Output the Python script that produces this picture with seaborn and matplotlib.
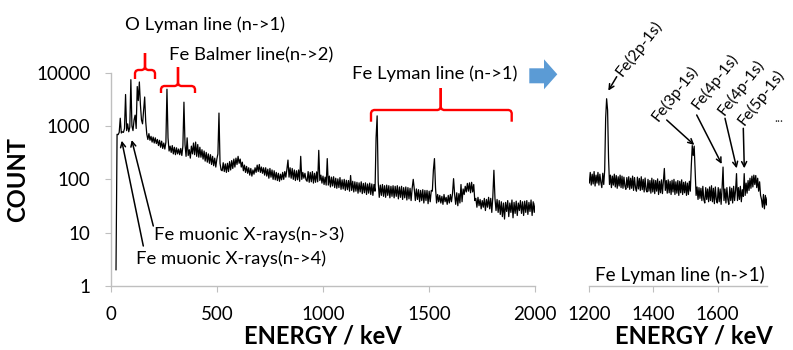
import numpy as np
import pandas as pd
import matplotlib
matplotlib.use("Agg")
import matplotlib.pyplot as plt
import seaborn as sns
from matplotlib.patches import Polygon
from matplotlib.lines import Line2D
from matplotlib.ticker import NullLocator

W, H = 793, 350

# ---------------- data ----------------
E_MAIN = np.arange(25, 2001, 5)          # keV bins, 25 ... 2000
COUNT_MAIN = (
    [2, 700, 690, 760, 1400, 740, 780, 760, 900, 3900, 820, 1100, 780, 950, 7400, 1000, 820, 1300, 1600, 900] +
    [5500, 3000, 6700, 2500, 1300, 1100, 2000, 3500, 1200, 700, 560, 720, 540, 640, 500, 620, 480, 600, 470, 560] +
    [430, 540, 400, 520, 380, 480, 370, 500, 4900, 600, 340, 420, 320, 430, 300, 400, 290, 390, 300, 370] +
    [290, 380, 280, 420, 2800, 450, 270, 600, 280, 360, 250, 420, 300, 480, 290, 500, 270, 450, 260, 400] +
    [260, 360, 240, 340, 220, 320, 210, 300, 200, 290, 190, 270, 180, 250, 170, 240, 300, 1750, 200, 150] +
    [145, 205, 140, 195, 135, 200, 140, 215, 150, 225, 160, 240, 170, 250, 190, 270, 200, 240, 170, 210] +
    [145, 185, 135, 175, 130, 165, 120, 160, 115, 150, 125, 165, 135, 185, 140, 190, 135, 170, 130, 165] +
    [120, 165, 115, 155, 105, 160, 110, 150, 100, 145, 98, 135, 95, 130, 92, 125, 98, 135, 100, 140] +
    [110, 155, 230, 110, 165, 105, 160, 100, 150, 95, 145, 98, 150, 92, 270, 100, 135, 105, 130, 98] +
    [92, 140, 88, 135, 90, 140, 85, 130, 88, 138, 90, 350, 95, 120, 85, 115, 80, 110, 78, 245] +
    [78, 115, 72, 110, 75, 112, 70, 105, 68, 102, 70, 108, 65, 98, 66, 100, 62, 96, 64, 95] +
    [60, 118, 62, 92, 58, 90, 60, 88, 55, 86, 58, 90, 54, 84, 56, 86, 52, 82, 55, 85] +
    [52, 82, 50, 80, 60, 600, 1550, 90, 46, 78, 50, 80, 48, 76, 46, 78, 50, 76, 45, 74] +
    [48, 76, 45, 74, 48, 76, 43, 72, 46, 74, 42, 70, 45, 72, 41, 70, 43, 68, 40, 68] +
    [100, 66, 40, 66, 42, 64, 38, 62, 40, 64, 36, 62, 40, 62, 35, 60, 38, 62, 60, 150] +
    [245, 70, 36, 52, 38, 50, 36, 48, 34, 52, 38, 46, 34, 50, 36, 52, 38, 54, 103, 52] +
    [34, 56, 32, 54, 36, 80, 38, 66, 52, 74, 58, 84, 60, 86, 56, 88, 58, 80, 40, 44] +
    [30, 46, 32, 42, 28, 40, 30, 44, 26, 42, 30, 46, 28, 44, 24, 48, 148, 44, 26, 42] +
    [24, 40, 22, 38, 20, 36, 18, 37, 25, 40, 20, 36, 24, 41, 19, 37, 23, 39, 21, 36] +
    [26, 40, 23, 38, 21, 39, 24, 40, 22, 37, 25, 41, 21, 38, 24, 36]
)

E_ZOOM = np.arange(1200, 1756, 3)        # keV bins, 1200 ... 1755
COUNT_ZOOM = (
    [85, 135, 78, 125, 82, 140, 75, 120, 85, 135, 78, 125, 88, 70, 130, 80, 150, 1400, 3250, 2000] +
    [250, 80, 120, 70, 115, 78, 125, 72, 118, 68, 112, 75, 120, 70, 115, 68, 110, 75, 65, 108] +
    [70, 112, 65, 105, 68, 115, 62, 108, 70, 60, 110, 66, 104, 62, 112, 64, 100, 58, 106, 64] +
    [58, 100, 60, 95, 55, 105, 58, 98, 54, 95, 60, 102, 52, 92, 56, 98, 54, 92, 160, 62] +
    [95, 55, 98, 56, 92, 52, 96, 58, 100, 52, 90, 55, 95, 50, 92, 56, 98, 52, 88, 56] +
    [90, 50, 85, 52, 92, 60, 180, 430, 280, 420, 140, 50, 72, 42, 70, 44, 68, 40, 74, 42] +
    [36, 70, 42, 66, 38, 72, 40, 76, 38, 68, 35, 72, 42, 36, 70, 38, 66, 34, 68, 170] +
    [40, 66, 36, 70, 42, 34, 72, 40, 68, 36, 74, 40, 62, 128, 40, 70, 42, 74, 38, 64] +
    [48, 128, 50, 85, 55, 95, 62, 105, 68, 115, 72, 120, 80, 118, 70, 105, 60, 90, 50, 42] +
    [30, 52, 28, 50, 33, 46]
)

Y_TICKS = [1, 10, 100, 1000, 10000]
Y_TICK_LABELS = ["1", "10", "100", "1000", "10000"]
X_TICKS_MAIN = [0, 500, 1000, 1500, 2000]
X_TICKS_ZOOM = [1200, 1400, 1600]

ZOOM_LABELS = ["Fe(2p-1s)", "Fe(3p-1s)", "Fe(4p-1s)", "Fe(4p-1s)", "Fe(5p-1s)"]

# ---------------- style ----------------
sns.set_theme(style="white")
plt.rcParams["font.family"] = ["Lato", "DejaVu Sans"]
AXIS_GREY = "#BFBFBF"
TXT = "black"

fig = plt.figure(figsize=(W / 100, H / 100), dpi=100)


def fx(x):
    return x / W


def fy(y):
    return 1 - y / H


def P(x, y):
    return (fx(x), fy(y))


ax1 = fig.add_axes([fx(110.7), fy(286), (535.3 - 110.7) / W, (286 - 72.7) / H])
ax2 = fig.add_axes([fx(589.3), fy(286), (767.3 - 589.3) / W, (286 - 72.7) / H])

df_main = pd.DataFrame({"energy": E_MAIN, "count": COUNT_MAIN})
df_zoom = pd.DataFrame({"energy": E_ZOOM, "count": COUNT_ZOOM})

sns.lineplot(data=df_main, x="energy", y="count", ax=ax1, color="black",
             lw=0.9, estimator=None)
sns.lineplot(data=df_zoom, x="energy", y="count", ax=ax2, color="black",
             lw=0.9, estimator=None)

for ax in (ax1, ax2):
    ax.set_yscale("log")
    ax.set_ylim(1, 10000)
    ax.set_xlabel("")
    ax.set_ylabel("")
    ax.yaxis.set_minor_locator(NullLocator())
    ax.xaxis.set_minor_locator(NullLocator())
    ax.set_facecolor("none")
    ax.grid(False)
    for s in ("top", "right"):
        ax.spines[s].set_visible(False)
    for s in ("left", "bottom"):
        ax.spines[s].set_color(AXIS_GREY)
        ax.spines[s].set_linewidth(1.0)
    ax.tick_params(axis="x", which="major", bottom=True, length=4.5, width=0.8,
                   color=AXIS_GREY, labelsize=13.5, pad=10, labelcolor=TXT)

ax1.set_xlim(0, 2000)
ax1.set_xticks(X_TICKS_MAIN)
ax1.set_xticklabels([str(t) for t in X_TICKS_MAIN])
ax1.set_yticks(Y_TICKS)
ax1.set_yticklabels(Y_TICK_LABELS)
ax1.tick_params(axis="y", which="major", left=True, length=4.5, width=0.8,
                color=AXIS_GREY, labelsize=13.5, pad=10, labelcolor=TXT)

ax2.set_xlim(1200, 1755)
ax2.set_xticks(X_TICKS_ZOOM)
ax2.set_xticklabels([str(t) for t in X_TICKS_ZOOM])
ax2.spines["left"].set_visible(False)
ax2.tick_params(axis="y", which="both", left=False, labelleft=False)

# ---------------- axis titles ----------------
fig.text(*P(322.5, 336), "ENERGY / keV", ha="center", va="center",
         fontsize=17.1, fontweight="bold", color=TXT)
fig.text(*P(694, 336), "ENERGY / keV", ha="center", va="center",
         fontsize=17.1, fontweight="bold", color=TXT)
fig.text(*P(18, 179), "COUNT", ha="center", va="center", rotation=90,
         fontsize=17.1, fontweight="bold", color=TXT)

# ---------------- annotations ----------------
ANN = 13.3
fig.text(*P(205, 25), "O Lyman line (n->1)", ha="center", va="center", fontsize=ANN, color=TXT)
fig.text(*P(251.5, 55), "Fe Balmer line(n->2)", ha="center", va="center", fontsize=ANN, color=TXT)
fig.text(*P(434.7, 73.3), "Fe Lyman line (n->1)", ha="center", va="center", fontsize=ANN, color=TXT)
fig.text(*P(679.5, 275), "Fe Lyman line (n->1)", ha="center", va="center", fontsize=13.6, color=TXT)
fig.text(*P(154.3, 235), "Fe muonic X-rays(n->3)", ha="left", va="center", fontsize=ANN, color=TXT)
fig.text(*P(136, 259), "Fe muonic X-rays(n->4)", ha="left", va="center", fontsize=ANN, color=TXT)


def bracket(x0, x1, xm, yh, yend, ytop, r=3.0):
    left = [(x0, yend), (x0, yh + r), (x0 + 0.3 * r, yh + 0.3 * r), (x0 + r, yh),
            (xm - r, yh), (xm - 0.3 * r, yh - 0.3 * r), (xm, yh - r), (xm, ytop)]
    right = [(x1, yend), (x1, yh + r), (x1 - 0.3 * r, yh + 0.3 * r), (x1 - r, yh),
             (xm + r, yh), (xm + 0.3 * r, yh - 0.3 * r), (xm, yh - r), (xm, ytop)]
    for pts in (left, right):
        xs = [fx(p[0]) for p in pts]
        ys = [fy(p[1]) for p in pts]
        fig.add_artist(Line2D(xs, ys, transform=fig.transFigure, color="#FF0000",
                              lw=1.7, solid_joinstyle="round", solid_capstyle="butt"))


bracket(135, 155, 145, 70, 79, 53)
bracket(161, 195, 178, 86, 93, 67)
bracket(371, 511.7, 440.7, 110, 121.7, 88)

# blue block arrow
arrow_pts = [P(529.3, 68.3), P(544, 68.3), P(544, 59.3), P(557.3, 74.3),
             P(544, 89.3), P(544, 83.3), P(529.3, 83.3)]
fig.add_artist(Polygon(arrow_pts, closed=True, transform=fig.transFigure,
                       facecolor="#5B9BD5", edgecolor="none"))


def arrow(x_from, y_from, x_to, y_to):
    ax1.annotate("", xy=P(x_to, y_to), xytext=P(x_from, y_from),
                 xycoords="figure fraction", textcoords="figure fraction",
                 annotation_clip=False,
                 arrowprops=dict(arrowstyle="->", color="black", lw=1.1,
                                 mutation_scale=9, shrinkA=0, shrinkB=0))


arrow(143.3, 246, 121.7, 140.7)
arrow(153.3, 226, 131.7, 140)

# right panel labels
label_anchor = [(624, 79), (660, 124), (700, 112), (727, 118), (746, 128)]
arrows_zoom = [((616.7, 76.7), (608.3, 90.7)), ((666.7, 120), (694.3, 145)),
               ((696.7, 115), (721.7, 164)), ((725, 118.3), (736.7, 168.3)),
               ((743.3, 128.3), (744.3, 168.3))]
for lab, (x, y), (a, b) in zip(ZOOM_LABELS, label_anchor, arrows_zoom):
    fig.text(*P(x, y), lab, rotation=52, rotation_mode="anchor", ha="left",
             va="bottom", fontsize=11.4, color=TXT)
    arrow(a[0], a[1], b[0], b[1])
fig.text(*P(779, 118), "...", ha="center", va="center", fontsize=9, color="#333333")

fig.savefig("out.png", dpi=100)
